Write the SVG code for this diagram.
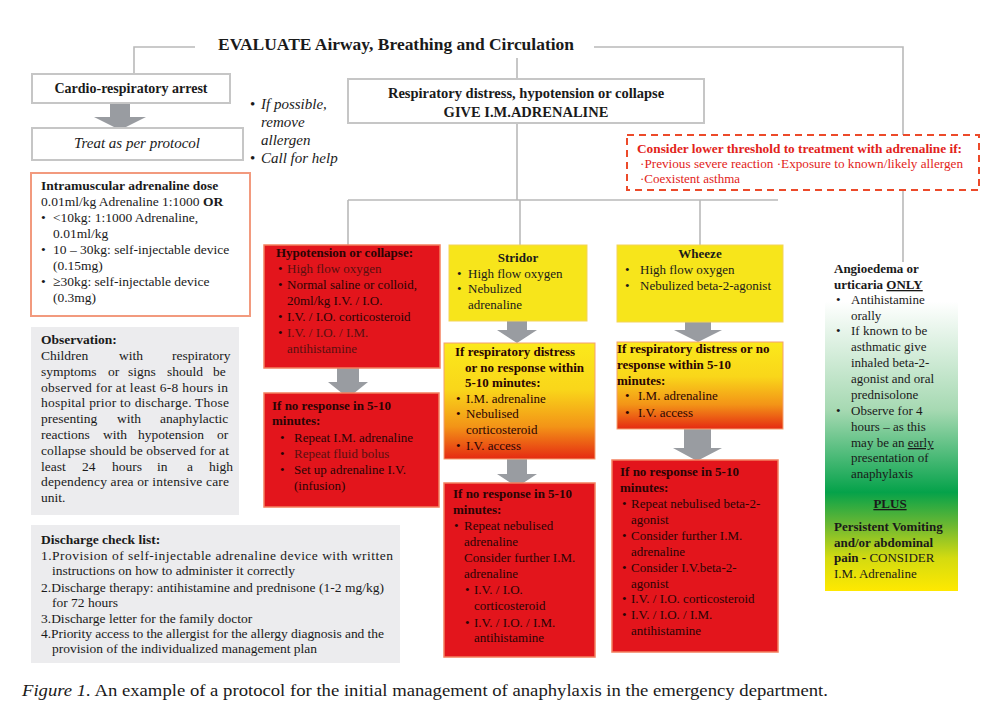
<svg xmlns="http://www.w3.org/2000/svg" width="983" height="717" viewBox="0 0 983 717">
<defs>
<style>
text{font-family:"Liberation Serif","Times New Roman",serif;fill:#1a1a1a}
.b{font-weight:bold}
.i{font-style:italic}
.ln{stroke:#b9b9b9;stroke-width:1.6;fill:none}
.gbox{fill:#fff;stroke:#c6c6c6;stroke-width:2}
.arr{fill:#999ca1}
.red{fill:#e3151c;stroke:#f3805f;stroke-width:1.5}
.yel{fill:#f7e51b;stroke:#f3d35a;stroke-width:1}
.rt{fill:#2a0404}
.s13{font-size:13px}
.s135{font-size:13.5px}
</style>
<linearGradient id="yo" x1="0" y1="0" x2="0" y2="1">
<stop offset="0" stop-color="#fbe91b"/>
<stop offset="0.4" stop-color="#f9d61a"/>
<stop offset="0.72" stop-color="#f39417"/>
<stop offset="1" stop-color="#e52a12"/>
</linearGradient>
<linearGradient id="gy" x1="0" y1="0" x2="0" y2="1">
<stop offset="0" stop-color="#ffffff"/>
<stop offset="0.12" stop-color="#ffffff"/>
<stop offset="0.45" stop-color="#a6d9b2"/>
<stop offset="0.7" stop-color="#05a24a"/>
<stop offset="0.8" stop-color="#6cb832"/>
<stop offset="0.9" stop-color="#d4db10"/>
<stop offset="1" stop-color="#ffe900"/>
</linearGradient>
</defs>

<g id="connectors">
<polyline class="ln" points="195,47 134,47 134,74"/>
<polyline class="ln" points="594,47 903,47 903,262"/>
<line class="ln" x1="517" y1="58" x2="517" y2="79"/>
<line class="ln" x1="517" y1="123" x2="517" y2="200"/>
<line class="ln" x1="348" y1="200" x2="778" y2="200"/>
<line class="ln" x1="348" y1="200" x2="348" y2="245"/>
<line class="ln" x1="520" y1="200" x2="520" y2="245"/>
<line class="ln" x1="700" y1="200" x2="700" y2="245"/>
<polygon class="arr" points="110,103 130,103 130,117 146,117 120,130 94,117 110,117"/>
<polygon class="arr" points="337,368 359,368 359,382 368,382 348,398 328,382 337,382"/>
<polygon class="arr" points="507,321 527,321 527,330 537,330 517,343 497,330 507,330"/>
<polygon class="arr" points="507,459 527,459 527,474 537,474 517,487 497,474 507,474"/>
<polygon class="arr" points="685,322 711,322 711,330 722,330 698,342 674,330 685,330"/>
<polygon class="arr" points="684,429 711,429 711,448 722,448 697,461 673,448 684,448"/>
</g>

<g id="title">
<text class="b" x="396" y="50" font-size="17" text-anchor="middle" textLength="356" lengthAdjust="spacingAndGlyphs">EVALUATE Airway, Breathing and Circulation</text>
</g>

<g id="cardio">
<rect class="gbox" x="32" y="74" width="198" height="29"/>
<text class="b" x="131" y="93" font-size="14" text-anchor="middle">Cardio-respiratory arrest</text>
</g>

<g id="treat">
<rect class="gbox" x="32" y="128" width="211" height="32"/>
<text class="i" x="137" y="148" font-size="15" text-anchor="middle">Treat as per protocol</text>
</g>

<g id="allergen">
<text class="i" font-size="15"><tspan x="250" y="109" font-style="normal">•</tspan><tspan x="261" y="109">If possible,</tspan><tspan x="261" y="127">remove</tspan><tspan x="261" y="145">allergen</tspan><tspan x="250" y="163" font-style="normal">•</tspan><tspan x="261" y="163">Call for help</tspan></text>
</g>

<g id="respiratory">
<rect class="gbox" x="348" y="79" width="356" height="44"/>
<text class="b" x="526" y="98" font-size="14.5" text-anchor="middle">Respiratory distress, hypotension or collapse</text>
<text class="b" x="526" y="117" font-size="14.5" text-anchor="middle">GIVE I.M.ADRENALINE</text>
</g>

<g id="threshold">
<rect x="627" y="135" width="352" height="55" fill="#fff" stroke="#ec4a2a" stroke-width="2" stroke-dasharray="7,5"/>
<text class="b" x="637" y="153" font-size="13" fill="#e2231a" style="fill:#e2231a" textLength="325" lengthAdjust="spacingAndGlyphs">Consider lower threshold to treatment with adrenaline if:</text>
<text x="640" y="168" font-size="13" style="fill:#e2231a" textLength="323" lengthAdjust="spacingAndGlyphs">·Previous severe reaction ·Exposure to known/likely allergen</text>
<text x="640" y="183" font-size="13" style="fill:#e2231a">·Coexistent asthma</text>
</g>

<g id="dose">
<rect x="31" y="173" width="219" height="143" fill="#fff" stroke="#f29a7e" stroke-width="2"/>
<text class="s135">
<tspan class="b" x="41" y="190">Intramuscular adrenaline dose</tspan>
<tspan x="41" y="206">0.01ml/kg Adrenaline 1:1000 <tspan class="b">OR</tspan></tspan>
<tspan x="41" y="222">•</tspan><tspan x="53" y="222">&lt;10kg: 1:1000 Adrenaline,</tspan>
<tspan x="53" y="238">0.01ml/kg</tspan>
<tspan x="41" y="254">•</tspan><tspan x="53" y="254">10 – 30kg: self-injectable device</tspan>
<tspan x="53" y="270">(0.15mg)</tspan>
<tspan x="41" y="286">•</tspan><tspan x="53" y="286">≥30kg: self-injectable device</tspan>
<tspan x="53" y="302">(0.3mg)</tspan>
</text>
</g>

<g id="observation">
<rect x="31" y="327" width="208" height="188" fill="#ececee"/>
<text class="b s135" x="41" y="344">Observation:</text>
<text class="s135"><tspan x="41" y="360">Children</tspan><tspan x="119" y="360">with</tspan><tspan x="172" y="360">respiratory</tspan></text>
<text class="s135"><tspan x="41" y="376">symptoms</tspan><tspan x="108" y="376">or</tspan><tspan x="128" y="376">signs</tspan><tspan x="167" y="376">should</tspan><tspan x="213" y="376">be</tspan></text>
<text class="s135" x="41" y="392" textLength="187" lengthAdjust="spacing">observed for at least 6-8 hours in</text>
<text class="s135" x="41" y="407" textLength="188" lengthAdjust="spacing">hospital prior to discharge. Those</text>
<text class="s135"><tspan x="41" y="423">presenting</tspan><tspan x="117" y="423">with</tspan><tspan x="160" y="423">anaphylactic</tspan></text>
<text class="s135"><tspan x="41" y="439">reactions</tspan><tspan x="103" y="439">with</tspan><tspan x="138" y="439">hypotension</tspan><tspan x="217" y="439">or</tspan></text>
<text class="s135" x="41" y="455" textLength="188" lengthAdjust="spacing">collapse should be observed for at</text>
<text class="s135"><tspan x="41" y="471">least</tspan><tspan x="82" y="471">24</tspan><tspan x="112" y="471">hours</tspan><tspan x="157" y="471">in</tspan><tspan x="187" y="471">a</tspan><tspan x="209" y="471">high</tspan></text>
<text class="s135" x="41" y="486" textLength="188" lengthAdjust="spacing">dependency area or intensive care</text>
<text class="s135" x="41" y="502">unit.</text>
</g>

<g id="discharge">
<rect x="31" y="525" width="369" height="138" fill="#ececee"/>
<text class="b s135" x="41" y="544">Discharge check list:</text>
<text class="s135" x="41" y="560" textLength="352" lengthAdjust="spacing">1.Provision of  self-injectable adrenaline device with written</text>
<text class="s135" x="52" y="575">instructions on how to administer it correctly</text>
<text class="s135" x="41" y="592" textLength="343" lengthAdjust="spacing">2.Discharge therapy: antihistamine and prednisone (1-2 mg/kg)</text>
<text class="s135" x="52" y="607">for 72 hours</text>
<text class="s135" x="41" y="623">3.Discharge letter for the family doctor</text>
<text class="s135" x="41" y="638" textLength="343" lengthAdjust="spacing">4.Priority access to the allergist for the allergy diagnosis and the</text>
<text class="s135" x="52" y="653">provision of the individualized management plan</text>
</g>

<g id="hypotension">
<rect class="red" x="264" y="245" width="176" height="123"/>
<text class="s13 rt">
<tspan class="b" x="276" y="257">Hypotension or collapse:</tspan>
<tspan x="278" y="273">•</tspan><tspan x="287" y="273" style="fill:#5a1010">High flow oxygen</tspan>
<tspan x="278" y="289">•</tspan><tspan x="287" y="289">Normal saline or colloid,</tspan>
<tspan x="287" y="305">20ml/kg I.V. / I.O.</tspan>
<tspan x="278" y="321">•</tspan><tspan x="287" y="321">I.V. / I.O. corticosteroid</tspan>
<tspan x="278" y="337">•</tspan><tspan x="287" y="337" style="fill:#5a1010">I.V. / I.O. / I.M.</tspan>
<tspan x="287" y="353" style="fill:#5a1010">antihistamine</tspan>
</text>
</g>

<g id="hypo-noresponse">
<rect class="red" x="264" y="393" width="175" height="114"/>
<text class="s13 rt">
<tspan class="b" x="272" y="410">If no response in 5-10</tspan>
<tspan class="b" x="272" y="425">minutes:</tspan>
<tspan x="280" y="442">•</tspan><tspan x="294" y="442">Repeat I.M. adrenaline</tspan>
<tspan x="280" y="458">•</tspan><tspan x="294" y="458" style="fill:#5a1010">Repeat fluid bolus</tspan>
<tspan x="280" y="474">•</tspan><tspan x="294" y="474">Set up adrenaline I.V.</tspan>
<tspan x="294" y="490">(infusion)</tspan>
</text>
</g>

<g id="stridor">
<rect class="yel" x="449" y="245" width="138" height="76"/>
<text class="b s13" x="518" y="262" text-anchor="middle">Stridor</text>
<text class="s13">
<tspan x="457" y="278">•</tspan><tspan x="468" y="278">High flow oxygen</tspan>
<tspan x="457" y="293">•</tspan><tspan x="468" y="293">Nebulized</tspan>
<tspan x="468" y="309">adrenaline</tspan>
</text>
</g>

<g id="stridor-distress">
<rect x="444" y="343" width="151" height="116" fill="url(#yo)" stroke="#f4a070" stroke-width="1"/>
<text class="s13 rt">
<tspan class="b" x="455" y="356">If respiratory distress</tspan>
<tspan class="b" x="465" y="372">or no response within</tspan>
<tspan class="b" x="465" y="387">5-10 minutes:</tspan>
<tspan x="456" y="403">•</tspan><tspan x="466" y="403">I.M. adrenaline</tspan>
<tspan x="456" y="418">•</tspan><tspan x="466" y="418">Nebulised</tspan>
<tspan x="466" y="434">corticosteroid</tspan>
<tspan x="456" y="450">•</tspan><tspan x="466" y="450">I.V. access</tspan>
</text>
</g>

<g id="stridor-noresponse">
<rect class="red" x="444" y="483" width="151" height="174"/>
<text class="s13 rt">
<tspan class="b" x="453" y="498">If no response in 5-10</tspan>
<tspan class="b" x="453" y="514">minutes:</tspan>
<tspan x="454" y="530">•</tspan><tspan x="464" y="530">Repeat nebulised</tspan>
<tspan x="464" y="546">adrenaline</tspan>
<tspan x="464" y="562">Consider further I.M.</tspan>
<tspan x="464" y="578">adrenaline</tspan>
<tspan x="465" y="594">•</tspan><tspan x="474" y="594">I.V. / I.O.</tspan>
<tspan x="474" y="610">corticosteroid</tspan>
<tspan x="465" y="627">•</tspan><tspan x="474" y="627">I.V. / I.O. / I.M.</tspan>
<tspan x="474" y="642">antihistamine</tspan>
</text>
</g>

<g id="wheeze">
<rect class="yel" x="617" y="245" width="166" height="77"/>
<text class="b s13" x="700" y="258" text-anchor="middle">Wheeze</text>
<text class="s13">
<tspan x="625" y="274">•</tspan><tspan x="640" y="274">High flow oxygen</tspan>
<tspan x="625" y="290">•</tspan><tspan x="640" y="290">Nebulized beta-2-agonist</tspan>
</text>
</g>

<g id="wheeze-distress">
<rect x="617" y="342" width="166" height="87" fill="url(#yo)" stroke="#f4a070" stroke-width="1"/>
<text class="s13 rt">
<tspan class="b" x="617" y="353">If respiratory distress or no</tspan>
<tspan class="b" x="617" y="369">response within 5-10</tspan>
<tspan class="b" x="617" y="385">minutes:</tspan>
<tspan x="625" y="400">•</tspan><tspan x="638" y="400">I.M. adrenaline</tspan>
<tspan x="625" y="417">•</tspan><tspan x="638" y="417">I.V. access</tspan>
</text>
</g>

<g id="wheeze-noresponse">
<rect class="red" x="612" y="460" width="166" height="192"/>
<text class="s13 rt">
<tspan class="b" x="620" y="476">If no response in 5-10</tspan>
<tspan class="b" x="620" y="492">minutes:</tspan>
<tspan x="622" y="508">•</tspan><tspan x="631" y="508">Repeat nebulised beta-2-</tspan>
<tspan x="631" y="524">agonist</tspan>
<tspan x="622" y="540">•</tspan><tspan x="631" y="540">Consider further I.M.</tspan>
<tspan x="631" y="556">adrenaline</tspan>
<tspan x="622" y="572">•</tspan><tspan x="631" y="572">Consider I.V.beta-2-</tspan>
<tspan x="631" y="588">agonist</tspan>
<tspan x="622" y="603">•</tspan><tspan x="631" y="603">I.V. / I.O. corticosteroid</tspan>
<tspan x="622" y="619">•</tspan><tspan x="631" y="619">I.V. / I.O. / I.M.</tspan>
<tspan x="631" y="635">antihistamine</tspan>
</text>
</g>

<g id="angioedema">
<rect x="825" y="262" width="133" height="329" fill="url(#gy)"/>
<text class="s13">
<tspan class="b" x="834" y="273">Angioedema or</tspan>
<tspan class="b" x="834" y="289">urticaria <tspan text-decoration="underline">ONLY</tspan></tspan>
<tspan x="836" y="304">•</tspan><tspan x="851" y="304">Antihistamine</tspan>
<tspan x="851" y="320">orally</tspan>
<tspan x="836" y="335">•</tspan><tspan x="851" y="335">If known to be</tspan>
<tspan x="851" y="351">asthmatic give</tspan>
<tspan x="851" y="367">inhaled beta-2-</tspan>
<tspan x="851" y="383">agonist and oral</tspan>
<tspan x="851" y="399">prednisolone</tspan>
<tspan x="836" y="415">•</tspan><tspan x="851" y="415">Observe for 4</tspan>
<tspan x="851" y="431">hours – as this</tspan>
<tspan x="851" y="447">may be an <tspan text-decoration="underline">early</tspan></tspan>
<tspan x="851" y="462">presentation of</tspan>
<tspan x="851" y="478">anaphylaxis</tspan>
</text>
<text class="b s13" x="890" y="508" text-anchor="middle" text-decoration="underline">PLUS</text>
<text class="s13">
<tspan class="b" x="834" y="531">Persistent Vomiting</tspan>
<tspan class="b" x="834" y="547">and/or abdominal</tspan>
<tspan x="834" y="562"><tspan class="b">pain -</tspan> CONSIDER</tspan>
<tspan x="834" y="578">I.M. Adrenaline</tspan>
</text>
</g>

<g id="caption">
<text x="22" y="696" font-size="16.5" textLength="806" lengthAdjust="spacingAndGlyphs"><tspan class="i">Figure 1.</tspan>  An example of a protocol for the initial management of anaphylaxis in the emergency department.</text>
</g>
</svg>
